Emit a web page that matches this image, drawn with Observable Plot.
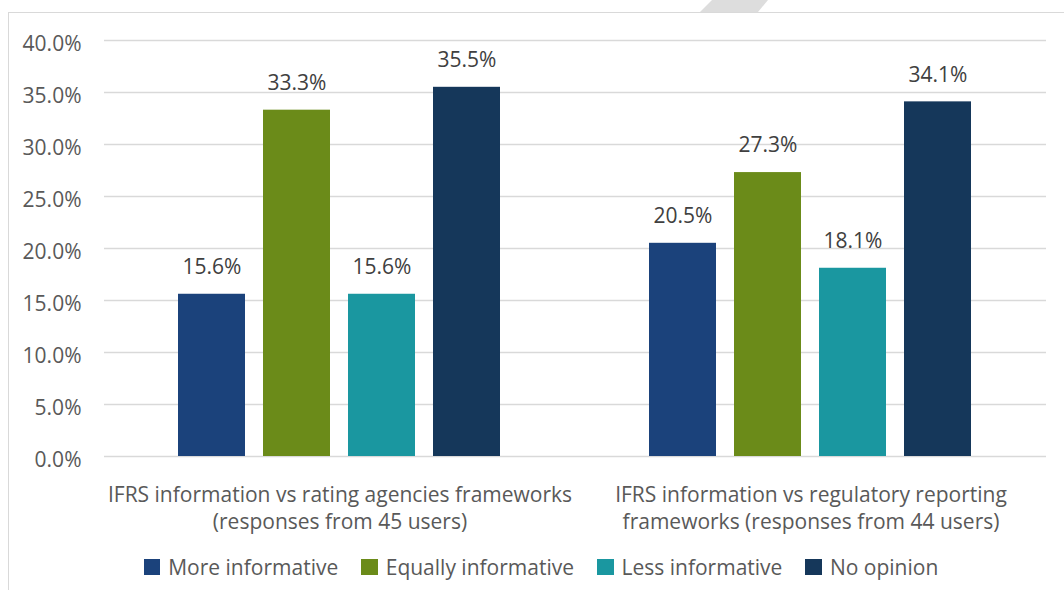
<!DOCTYPE html>
<html>
<head>
<meta charset="utf-8">
<script src="https://cdn.jsdelivr.net/npm/d3@7"></script>
<script src="https://cdn.jsdelivr.net/npm/@observablehq/plot@0.6"></script>
<style>
  body { margin: 0; background: #fff; font-family: "Open Sans", sans-serif; }
  #wrap { position: relative; width: 1064px; height: 590px; overflow: hidden; background: #fff; }
  #frame { position: absolute; left: 8px; top: 12px; width: 1100px; height: 700px; border: 1.5px solid #D9D9D9; box-sizing: border-box; }
  #deco { position: absolute; left: 700px; top: 0; width: 68px; height: 12px; background: #DDDDDD;
          clip-path: polygon(12px 0, 68px 0, 58px 12px, 0 12px); }
  #chart { position: absolute; left: 0; top: 0; }
  #legend { position: absolute; left: 0; top: 552px; width: 1082px; display: flex; justify-content: center;
            font-size: 21px; color: #595959; line-height: 30px; }
  .item { display: flex; align-items: center; margin: 0 11.5px; }
  .sw { width: 16.5px; height: 16.5px; margin-right: 8px; }
</style>
</head>
<body>
<div id="wrap">
  <div id="frame"></div>
  <div id="deco"></div>
  <div id="chart"></div>
  <div id="legend"></div>
</div>
<script>
const groups = [
  "IFRS information vs rating agencies frameworks\n(responses from 45 users)",
  "IFRS information vs regulatory reporting\nframeworks (responses from 44 users)"
];
const categories = ["More informative", "Equally informative", "Less informative", "No opinion"];
const ratingAgenciesValues = [15.6, 33.3, 15.6, 35.5];
const regulatoryValues = [20.5, 27.3, 18.1, 34.1];
const colors = ["#1B427B", "#6B8B19", "#1A97A0", "#15375A"];
const yTicks = [0, 5, 10, 15, 20, 25, 30, 35, 40];

const data = [];
categories.forEach((c, i) => data.push({group: groups[0], category: c, value: ratingAgenciesValues[i]}));
categories.forEach((c, i) => data.push({group: groups[1], category: c, value: regulatoryValues[i]}));

const fmt = d => d.toFixed(1) + "%";

const chart = Plot.plot({
  width: 1064,
  height: 540,
  marginLeft: 104,
  marginRight: 18,
  marginTop: 40,
  marginBottom: 84,
  style: {fontFamily: "'Open Sans', sans-serif", background: "transparent", overflow: "visible"},
  fx: {domain: groups, padding: 0, axis: null},
  x: {domain: categories, paddingInner: 0.207, paddingOuter: 0.85, axis: null},
  y: {domain: [0, 40]},
  color: {domain: categories, range: colors},
  marks: [
    Plot.gridY(yTicks, {stroke: "#D9D9D9", strokeOpacity: 1, strokeWidth: 1.5}),
    Plot.axisY(yTicks, {tickSize: 0, tickPadding: 23, tickFormat: fmt, fontSize: 21, fill: "#595959", dy: 4, label: null}),
    Plot.barY(data, {fx: "group", x: "category", y: "value", fill: "category"}),
    Plot.text(data, {fx: "group", x: "category", y: "value", text: d => fmt(d.value), dy: -27, fontSize: 21, fill: "#404040"}),
    Plot.text(groups, {fx: d => d, text: d => d, frameAnchor: "bottom", lineAnchor: "top", dy: 26, lineHeight: 1.3, fontSize: 21, fill: "#595959"})
  ]
});
document.getElementById("chart").appendChild(chart);

const legend = document.getElementById("legend");
categories.forEach((c, i) => {
  const item = document.createElement("div");
  item.className = "item";
  const sw = document.createElement("span");
  sw.className = "sw";
  sw.style.background = colors[i];
  const t = document.createElement("span");
  t.textContent = c;
  item.appendChild(sw);
  item.appendChild(t);
  legend.appendChild(item);
});
</script>
</body>
</html>
